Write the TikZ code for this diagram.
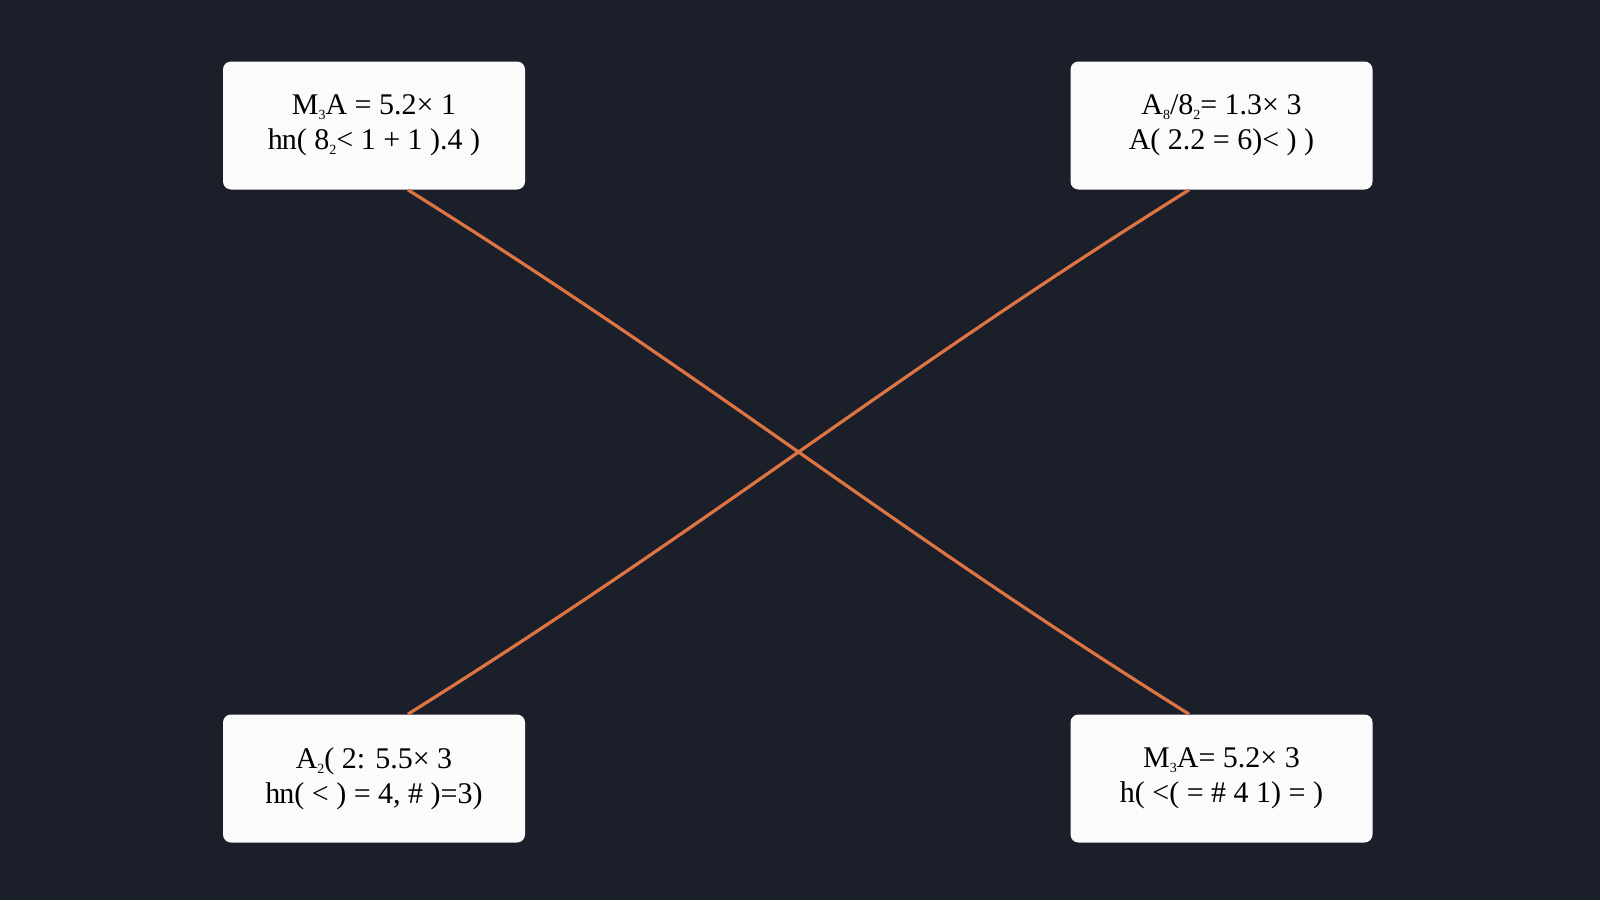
\documentclass[tikz,border=0pt]{standalone}
\usepackage{fontspec}
\setmainfont{Liberation Serif}
\definecolor{bg}{HTML}{1A1F29}
\definecolor{wire}{HTML}{DE7443}
\definecolor{card}{HTML}{FBFBFB}
\newcommand{\tinysub}[1]{\raisebox{-2.5pt}{\fontsize{7}{7}\selectfont #1}}
\tikzset{
  card/.style={fill=card, draw=none, rounded corners=4pt, minimum width=151pt, minimum height=64pt,
    align=center, inner sep=0pt, text=black, font=\fontsize{15}{17.5}\selectfont},
  wire/.style={draw=wire, line width=1.6pt}
}
\begin{document}
\begin{tikzpicture}[x=0.5pt,y=-0.5pt]
\useasboundingbox[fill=bg] (0,0) rectangle (1600,900);
\node[card] (tl) at (374,125.5) {M\tinysub{3}A = 5.2× 1\\h\kern-0.5pt n( 8\tinysub{2}< 1 + 1 ).4 )};
\node[card] (tr) at (1221.5,125.5) {A\tinysub{8}/8\tinysub{2}= 1.3× 3\\A( 2.2 = 6)< ) )};
\node[card] (bl) at (374,778.5) {A\tinysub{2}( 2: 5.5× 3\\h\kern-0.5pt n( < ) = 4, \# )=3)};
\node[card] (br) at (1221.5,778.5) {M\tinysub{3}A= 5.2× 3\\h( <( = \# 4 1) = )};
\draw[wire] ([xshift=17pt]tl.south) .. controls +(311,195) and +(-311,-195) .. ([xshift=-16.25pt]br.north);
\draw[wire] ([xshift=-16.25pt]tr.south) .. controls +(-311,195) and +(311,-195) .. ([xshift=17pt]bl.north);
\end{tikzpicture}
\end{document}
